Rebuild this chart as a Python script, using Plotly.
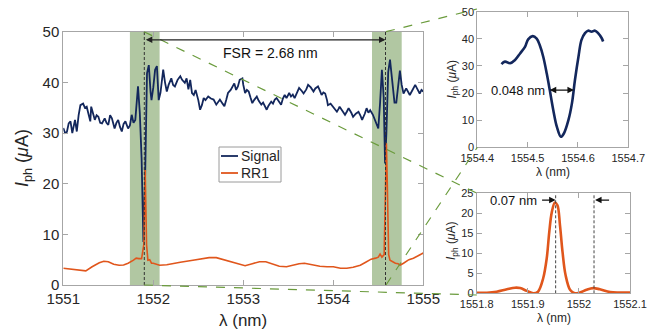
import plotly.graph_objects as go

# ---------------- data ----------------
signal_wl = [1551.00, 1551.02, 1551.04, 1551.06, 1551.08, 1551.10, 1551.13, 1551.15, 1551.17, 1551.19,
             1551.22, 1551.24, 1551.26, 1551.28, 1551.30, 1551.31, 1551.33, 1551.35, 1551.37, 1551.39,
             1551.41, 1551.43, 1551.46, 1551.48, 1551.50, 1551.52, 1551.54, 1551.57, 1551.59, 1551.61,
             1551.63, 1551.65, 1551.67, 1551.69, 1551.72, 1551.74, 1551.76, 1551.78, 1551.80, 1551.82,
             1551.83, 1551.85, 1551.87, 1551.89, 1551.91, 1551.93, 1551.95, 1551.97, 1551.98, 1552.00,
             1552.02, 1552.04, 1552.06, 1552.08, 1552.11, 1552.13, 1552.15, 1552.17, 1552.20, 1552.22,
             1552.24, 1552.27, 1552.30, 1552.32, 1552.35, 1552.37, 1552.39, 1552.41, 1552.43, 1552.45,
             1552.47, 1552.50, 1552.52, 1552.54, 1552.56, 1552.58, 1552.61, 1552.64, 1552.67, 1552.70,
             1552.72, 1552.74, 1552.77, 1552.79, 1552.81, 1552.83, 1552.86, 1552.88, 1552.90, 1552.92,
             1552.94, 1552.96, 1552.99, 1553.00, 1553.02, 1553.04, 1553.06, 1553.08, 1553.10, 1553.12,
             1553.15, 1553.17, 1553.20, 1553.22, 1553.24, 1553.26, 1553.28, 1553.31, 1553.33, 1553.35,
             1553.37, 1553.40, 1553.42, 1553.44, 1553.46, 1553.48, 1553.51, 1553.53, 1553.55, 1553.57,
             1553.60, 1553.62, 1553.65, 1553.67, 1553.70, 1553.72, 1553.75, 1553.78, 1553.80, 1553.83,
             1553.85, 1553.87, 1553.89, 1553.91, 1553.93, 1553.94, 1553.97, 1554.00, 1554.02, 1554.04,
             1554.06, 1554.07, 1554.10, 1554.13, 1554.15, 1554.17, 1554.20, 1554.22, 1554.25, 1554.28,
             1554.30, 1554.32, 1554.35, 1554.37, 1554.39, 1554.41, 1554.44, 1554.46, 1554.48, 1554.50,
             1554.52, 1554.54, 1554.56, 1554.575, 1554.59, 1554.61, 1554.63, 1554.66, 1554.68, 1554.70,
             1554.72, 1554.74, 1554.76, 1554.78, 1554.81, 1554.83, 1554.85, 1554.88, 1554.91, 1554.93,
             1554.96, 1554.98, 1555.00]
signal_val = [31.0, 30.0, 30.2, 31.9, 32.3, 30.0, 32.6, 30.3, 33.5, 35.5,
              35.8, 35.0, 35.2, 34.0, 32.3, 35.2, 34.0, 32.6, 33.5, 33.2,
              32.0, 31.9, 32.9, 32.0, 31.6, 33.5, 32.9, 30.9, 32.0, 32.6,
              31.2, 30.3, 31.8, 32.3, 30.9, 31.5, 33.6, 32.0, 32.6, 37.0,
              39.2, 34.0, 25.0, 8.5, 22.0, 41.8, 43.4, 38.0, 36.5, 39.0,
              42.5, 43.2, 36.5, 38.0, 42.5, 40.0, 38.2, 39.5, 40.8, 39.5,
              39.2, 40.5, 41.2, 40.5, 39.9, 40.8, 38.6, 40.5, 37.9, 37.5,
              38.5, 36.5, 34.6, 35.5, 36.9, 36.5, 37.2, 36.8, 36.6, 35.6,
              36.2, 36.6, 35.8, 35.3, 36.5, 37.9, 38.5, 39.2, 39.8, 38.5,
              39.2, 40.5, 40.8, 39.5, 37.9, 38.5, 38.2, 37.0, 35.9, 36.5,
              37.2, 36.4, 35.6, 36.0, 35.2, 34.6, 35.4, 36.2, 35.8, 36.6,
              36.9, 36.0, 35.6, 36.8, 37.5, 36.9, 37.9, 37.2, 37.6, 36.9,
              38.0, 38.9, 38.3, 37.8, 38.6, 39.5, 39.0, 38.2, 38.8, 39.2,
              38.4, 37.5, 38.0, 37.8, 36.5, 35.5, 35.8, 35.2, 34.6, 34.2,
              34.8, 35.2, 34.4, 33.6, 34.2, 34.9, 34.0, 33.2, 33.8, 34.2,
              33.5, 32.6, 33.8, 34.9, 34.0, 34.5, 33.6, 32.8, 32.0, 30.9,
              36.0, 42.5, 37.0, 24.0, 30.0, 42.0, 44.5, 40.0, 36.0, 36.0,
              39.0, 42.3, 39.5, 37.8, 38.8, 38.0, 37.5, 38.5, 39.5, 38.8,
              37.8, 38.5, 38.2]

rr1_wl = [1551.00, 1551.10, 1551.20, 1551.25, 1551.32, 1551.40, 1551.45, 1551.50, 1551.56, 1551.62,
          1551.67, 1551.72, 1551.78, 1551.81, 1551.84, 1551.87, 1551.895, 1551.91, 1551.925, 1551.94,
          1551.96, 1551.98, 1552.00, 1552.04, 1552.07, 1552.15, 1552.22, 1552.30, 1552.44, 1552.55,
          1552.62, 1552.70, 1552.78, 1552.85, 1552.95, 1553.02, 1553.10, 1553.18, 1553.25, 1553.32,
          1553.40, 1553.48, 1553.55, 1553.62, 1553.68, 1553.75, 1553.85, 1553.93, 1554.00, 1554.08,
          1554.15, 1554.22, 1554.30, 1554.36, 1554.42, 1554.47, 1554.50, 1554.52, 1554.54, 1554.565,
          1554.58, 1554.59, 1554.60, 1554.615, 1554.63, 1554.66, 1554.69, 1554.72, 1554.74, 1554.78,
          1554.84, 1554.89, 1554.95, 1555.00]
rr1_val = [3.3, 3.1, 2.8, 2.8, 3.6, 4.4, 4.7, 4.6, 4.1, 3.9,
           3.95, 4.3, 4.9, 5.3, 5.2, 5.2, 8.0, 22.7, 8.0, 4.9,
           5.0, 4.3, 4.3, 4.0, 3.9, 4.0, 4.3, 4.5, 4.9, 5.2,
           5.4, 5.4, 5.0, 4.6, 4.0, 3.8, 4.2, 4.6, 4.6, 4.2,
           3.7, 3.6, 3.9, 4.2, 4.3, 4.0, 3.7, 3.6, 3.6, 3.3,
           3.3, 3.5, 3.9, 4.5, 5.1, 5.3, 5.5, 6.1, 5.5, 6.0,
           20.0, 28.0, 20.0, 6.0, 4.9, 4.6, 4.3, 4.2, 3.9, 4.3,
           5.0, 5.3, 5.9, 6.3]

# top inset: Signal resonance dip
zoom_sig_wl = [1554.448, 1554.455, 1554.465, 1554.475, 1554.485, 1554.495, 1554.501, 1554.510, 1554.518,
               1554.524, 1554.531, 1554.538, 1554.544, 1554.551, 1554.558, 1554.566, 1554.572, 1554.581,
               1554.588, 1554.594, 1554.601, 1554.607, 1554.614, 1554.620, 1554.627, 1554.634, 1554.640,
               1554.647, 1554.650]
zoom_sig_val = [30.7, 31.6, 31.0, 32.2, 34.6, 37.1, 39.8, 41.0, 40.1,
                37.7, 33.4, 27.2, 21.1, 13.7, 7.6, 3.9, 5.1, 10.0,
                16.2, 24.8, 33.4, 39.6, 42.1, 43.0, 42.6, 43.0, 42.1,
                40.3, 39.0]

# bottom inset: RR1 resonance peak
zoom_rr_wl = [1551.800, 1551.820, 1551.839, 1551.859, 1551.875, 1551.885, 1551.898, 1551.911, 1551.920,
              1551.930, 1551.937, 1551.942, 1551.947, 1551.953, 1551.958, 1551.963, 1551.968, 1551.974,
              1551.983, 1551.992, 1552.002, 1552.015, 1552.028, 1552.041, 1552.061, 1552.080, 1552.100]
zoom_rr_val = [0.15, 0.15, 0.4, 1.0, 1.4, 1.3, 0.6, 0.0, 0.4,
               3.7, 8.7, 15.3, 20.3, 22.7, 22.0, 17.0, 10.3, 4.5,
               0.8, 0.0, 0.2, 0.9, 1.3, 1.0, 0.3, 0.2, 0.2]

series_names = ["Signal", "RR1"]
main_xticks = [1551, 1552, 1553, 1554, 1555]
main_yticks = [0, 10, 20, 30, 40, 50]
top_xticks = [1554.4, 1554.5, 1554.6, 1554.7]
top_xlabels = ["1554.4", "1554.5", "1554.6", "1554.7"]
top_yticks = [0, 10, 20, 30, 40, 50]
bot_xticks = [1551.8, 1551.9, 1552.0, 1552.1]
bot_xlabels = ["1551.8", "1551.9", "1552", "1552.1"]
bot_yticks = [0, 5, 10, 15, 20, 25]

band_ranges = [(1551.74, 1552.07), (1554.43, 1554.76)]
res_lines = [1551.90, 1554.58]
fsr_y = 48.4
fwhm_sig = (1554.541, 1554.592, 21.1)
fwhm_rr = [1551.9545, 1552.0296]

# ---------------- styling ----------------
W, H = 660, 333
NAVY = "#13275c"
ORANGE = "#e0561c"
FRAME = "#a6a6a6"
TXT = "#262626"
FONT = "Liberation Sans, Arial, sans-serif"
GREEN_BAND = "#b1c7a2"
GREEN_DASH = "#6a9b3c"

def px(x):
    return x / W

def py(y):
    return 1 - y / H

fig = go.Figure()

fig.add_trace(go.Scatter(x=signal_wl, y=signal_val, mode="lines", name=series_names[0],
                         line=dict(color=NAVY, width=1.8), xaxis="x", yaxis="y", showlegend=False))
fig.add_trace(go.Scatter(x=rr1_wl, y=rr1_val, mode="lines", name=series_names[1],
                         line=dict(color=ORANGE, width=1.6), xaxis="x", yaxis="y", showlegend=False))
fig.add_trace(go.Scatter(x=zoom_sig_wl, y=zoom_sig_val, mode="lines", showlegend=False,
                         line=dict(color=NAVY, width=2.6, shape="spline"), xaxis="x2", yaxis="y2"))
fig.add_trace(go.Scatter(x=zoom_rr_wl, y=zoom_rr_val, mode="lines", showlegend=False,
                         line=dict(color=ORANGE, width=2.6, shape="spline"), xaxis="x3", yaxis="y3"))

def ax_common(size):
    return dict(showline=True, linecolor=FRAME, linewidth=1, mirror="ticks", ticks="inside",
                ticklen=5, tickcolor=FRAME, showgrid=False, zeroline=False, automargin=False,
                tickfont=dict(family=FONT, size=size, color=TXT))

ytitle = "<i>I</i><sub>ph</sub> (<i>μ</i>A)"

fig.update_layout(
    width=W, height=H, margin=dict(l=0, r=0, t=0, b=0),
    paper_bgcolor="white", plot_bgcolor="white",
    font=dict(family=FONT, color=TXT), showlegend=False,
    xaxis=dict(domain=[px(63.3), px(423.3)], range=[1551, 1555], tickvals=main_xticks,
               anchor="y", **ax_common(15)),
    yaxis=dict(domain=[py(285), py(31.7)], range=[0, 50], tickvals=main_yticks,
               anchor="x", **ax_common(15)),
    xaxis2=dict(domain=[px(477.3), px(628.3)], range=[1554.4, 1554.7], tickvals=top_xticks,
                ticktext=top_xlabels, anchor="y2", **ax_common(11)),
    yaxis2=dict(domain=[py(147.3), py(11.7)], range=[0, 50], tickvals=top_yticks,
                anchor="x2", **ax_common(11)),
    xaxis3=dict(domain=[px(476.7), px(630)], range=[1551.8, 1552.1], tickvals=bot_xticks,
                ticktext=bot_xlabels, anchor="y3", **ax_common(11)),
    yaxis3=dict(domain=[py(293.3), py(193.3)], range=[0, 25], tickvals=bot_yticks,
                anchor="x3", **ax_common(11)),
)

shapes = []
for lo, hi in band_ranges:
    shapes.append(dict(type="rect", xref="x", yref="y", x0=lo, x1=hi, y0=0, y1=50,
                       fillcolor=GREEN_BAND, line=dict(width=0), layer="below"))
for xv in res_lines:
    shapes.append(dict(type="line", xref="x", yref="y", x0=xv, x1=xv, y0=0, y1=50,
                       line=dict(color="#333333", width=1, dash="3px,2px")))
for xv in fwhm_rr:
    shapes.append(dict(type="line", xref="x3", yref="y3", x0=xv, x1=xv, y0=0, y1=25,
                       line=dict(color="#444444", width=1, dash="3px,2px")))
# connector lines (paper coordinates)
connectors = [((144, 31.7), (477, 193.3)), ((144, 285), (477, 295)),
              ((386, 31.7), (477, 9)), ((386, 285), (477.3, 147.3))]
for (x0, y0), (x1, y1) in connectors:
    shapes.append(dict(type="line", xref="paper", yref="paper", x0=px(x0), y0=py(y0),
                       x1=px(x1), y1=py(y1), line=dict(color=GREEN_DASH, width=1.2, dash="dash")))
# legend box (manual, MATLAB style)
LEG = dict(x0=219, y0=147, x1=281, y1=182)
shapes.append(dict(type="rect", xref="paper", yref="paper", x0=px(LEG["x0"]), x1=px(LEG["x1"]),
                   y0=py(LEG["y1"]), y1=py(LEG["y0"]), fillcolor="white",
                   line=dict(color="#9a9a9a", width=1)))
leg_rows = [(156, NAVY), (173, ORANGE)]
for yy, col in leg_rows:
    shapes.append(dict(type="line", xref="paper", yref="paper", x0=px(221), x1=px(238),
                       y0=py(yy), y1=py(yy), line=dict(color=col, width=1.8)))
fig.update_layout(shapes=shapes)

ann = []
for (yy, col), name in zip(leg_rows, series_names):
    ann.append(dict(x=px(238.5), y=py(yy), xref="paper", yref="paper", text=name,
                    showarrow=False, xanchor="left", yanchor="middle",
                    font=dict(family=FONT, size=14, color=TXT)))
# axis titles
ann.append(dict(x=px(243.3), y=py(320), xref="paper", yref="paper", text="λ (nm)", showarrow=False,
                xanchor="center", yanchor="middle", font=dict(family=FONT, size=17, color=TXT)))
ann.append(dict(x=px(23), y=py(158), xref="paper", yref="paper", text=ytitle, showarrow=False,
                textangle=-90, xanchor="center", yanchor="middle",
                font=dict(family=FONT, size=18, color=TXT)))
ann.append(dict(x=px(553), y=py(172), xref="paper", yref="paper", text="λ (nm)", showarrow=False,
                xanchor="center", yanchor="middle", font=dict(family=FONT, size=12, color=TXT)))
ann.append(dict(x=px(452), y=py(79.5), xref="paper", yref="paper", text=ytitle, showarrow=False,
                textangle=-90, xanchor="center", yanchor="middle",
                font=dict(family=FONT, size=12, color=TXT)))
ann.append(dict(x=px(554), y=py(318), xref="paper", yref="paper", text="λ (nm)", showarrow=False,
                xanchor="center", yanchor="middle", font=dict(family=FONT, size=12, color=TXT)))
ann.append(dict(x=px(452), y=py(241), xref="paper", yref="paper", text=ytitle, showarrow=False,
                textangle=-90, xanchor="center", yanchor="middle",
                font=dict(family=FONT, size=12, color=TXT)))
# FSR double arrow
ann.append(dict(x=res_lines[1], y=fsr_y, ax=res_lines[0], ay=fsr_y, xref="x", yref="y",
                axref="x", ayref="y", text="", showarrow=True, arrowhead=2, arrowside="end+start",
                arrowsize=1, arrowwidth=1.3, arrowcolor="#222222"))
ann.append(dict(x=1553.30, y=45.8, xref="x", yref="y", text="FSR = 2.68 nm", showarrow=False,
                font=dict(family=FONT, size=14, color="#111111")))
# 0.048 nm arrow
ann.append(dict(x=fwhm_sig[1], y=fwhm_sig[2], ax=fwhm_sig[0], ay=fwhm_sig[2], xref="x2", yref="y2",
                axref="x2", ayref="y2", text="", showarrow=True, arrowhead=2, arrowside="end+start",
                arrowsize=1, arrowwidth=1.3, arrowcolor="#111111"))
ann.append(dict(x=fwhm_sig[0] - 0.003, y=fwhm_sig[2], xref="x2", yref="y2", text="0.048 nm",
                showarrow=False, xanchor="right", font=dict(family=FONT, size=13, color="#111111")))
# 0.07 nm arrows
ann.append(dict(x=fwhm_rr[0], y=23.3, ax=1551.925, ay=23.3, xref="x3", yref="y3",
                axref="x3", ayref="y3", text="", showarrow=True, arrowhead=2,
                arrowsize=1, arrowwidth=1.3, arrowcolor="#111111"))
ann.append(dict(x=fwhm_rr[1] + 0.002, y=23.3, ax=1552.062, ay=23.3, xref="x3", yref="y3",
                axref="x3", ayref="y3", text="", showarrow=True, arrowhead=2,
                arrowsize=1, arrowwidth=1.3, arrowcolor="#111111"))
ann.append(dict(x=1551.921, y=23.3, xref="x3", yref="y3", text="0.07 nm",
                showarrow=False, xanchor="right", font=dict(family=FONT, size=13, color="#111111")))
fig.update_layout(annotations=ann)

# remove the browser's default 8px body margin so the figure sits at the window origin
fig.write_html("out.html", config={"displayModeBar": False},
               post_script="document.body.style.margin='0px';document.body.style.overflow='hidden';")
